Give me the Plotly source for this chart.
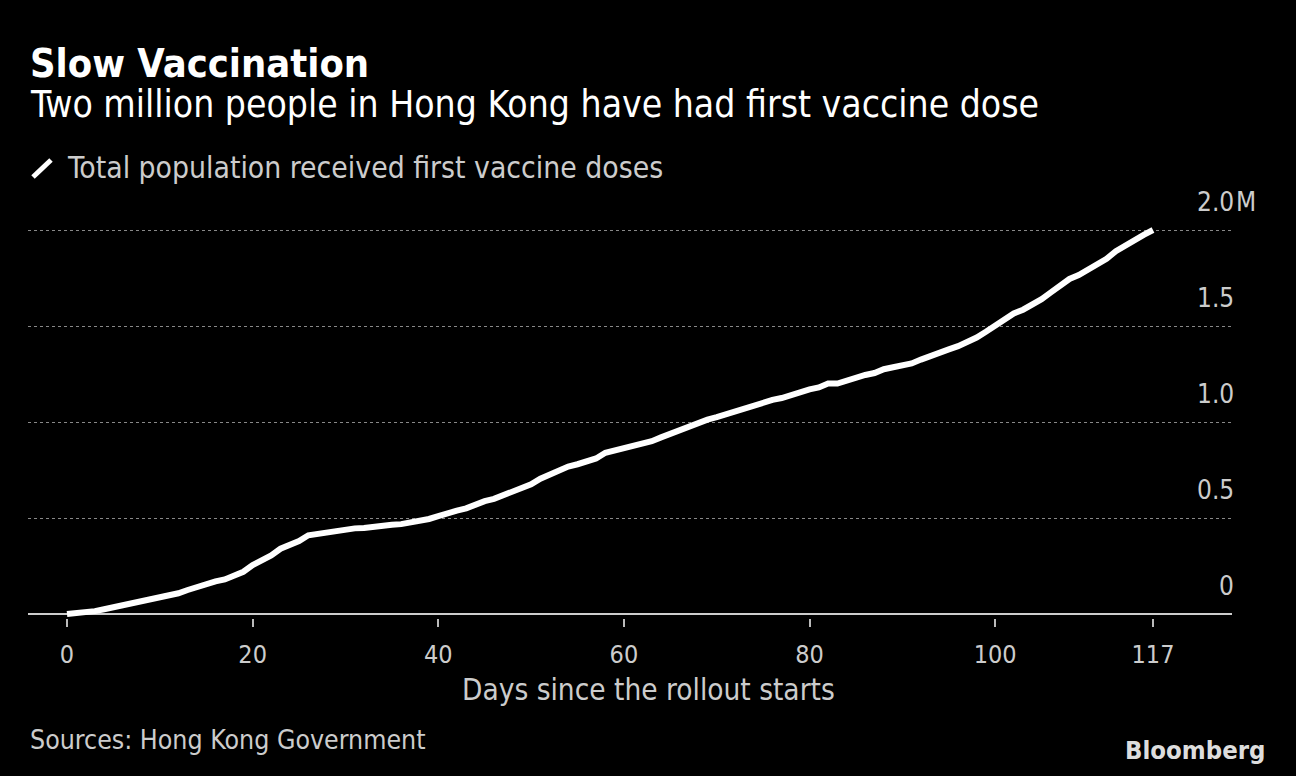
import plotly.graph_objects as go

# ---- data ----
days = list(range(0, 118))
doses_m = [
    0.000, 0.004, 0.006, 0.015, 0.025, 0.035, 0.045, 0.055, 0.065, 0.075,
    0.085, 0.095, 0.108, 0.125, 0.140, 0.160, 0.170, 0.180, 0.200, 0.220,
    0.255, 0.280, 0.305, 0.340, 0.360, 0.380, 0.410, 0.418, 0.420, 0.430,
    0.438, 0.446, 0.448, 0.455, 0.458, 0.465, 0.468, 0.476, 0.482, 0.495,
    0.510, 0.528, 0.538, 0.550, 0.570, 0.588, 0.600, 0.620, 0.640, 0.656,
    0.675, 0.705, 0.728, 0.748, 0.768, 0.780, 0.795, 0.810, 0.840, 0.852,
    0.870, 0.880, 0.890, 0.900, 0.920, 0.940, 0.955, 0.975, 0.995, 1.012,
    1.025, 1.040, 1.060, 1.075, 1.090, 1.106, 1.115, 1.125, 1.140, 1.160,
    1.170, 1.180, 1.200, 1.200, 1.215, 1.235, 1.245, 1.255, 1.275, 1.285,
    1.295, 1.305, 1.325, 1.345, 1.365, 1.378, 1.395, 1.415, 1.440, 1.470,
    1.500, 1.530, 1.565, 1.585, 1.610, 1.640, 1.675, 1.715, 1.745, 1.765,
    1.795, 1.820, 1.850, 1.890, 1.920, 1.945, 1.975, 2.000,
]
x_tickvals = [0, 20, 40, 60, 80, 100, 117]
x_ticktext = ["0", "20", "40", "60", "80", "100", "117"]
y_tickvals = [0, 0.5, 1.0, 1.5, 2.0]
y_ticktext = ["0", "0.5", "1.0", "1.5", "2.0"]
y_unit = "M"

title = "Slow Vaccination"
subtitle = "Two million people in Hong Kong have had first vaccine dose"
series_name = "Total population received first vaccine doses"
x_title = "Days since the rollout starts"
source = "Sources: Hong Kong Government"
brand = "Bloomberg"

FONT = "DejaVu Sans Condensed, Liberation Sans Narrow, Liberation Sans, sans-serif"
TXT = "#cccccc"

fig = go.Figure()
fig.add_trace(go.Scatter(
    x=days, y=doses_m, mode="lines", name=series_name,
    line=dict(color="white", width=6), hoverinfo="x+y",
))

W, H = 1296, 776
L, R, T, B = 28, 64, 200, 158
pw, ph = W - L - R, H - T - B

def py(pix):
    return (H - B - pix) / ph

def px(pix):
    return (pix - L) / pw

ann = []
ann.append(dict(text=f"<b>{title}</b>", x=0, y=py(63), xref="paper", yref="paper",
                xanchor="left", yanchor="middle", showarrow=False,
                font=dict(size=39.5, color="white", family=FONT)))
ann.append(dict(text=subtitle, x=0, y=py(105), xref="paper", yref="paper",
                xanchor="left", yanchor="middle", showarrow=False,
                font=dict(size=37, color="white", family=FONT)))
ann.append(dict(text=series_name, x=px(65), y=py(167), xref="paper", yref="paper",
                xanchor="left", yanchor="middle", showarrow=False,
                font=dict(size=29.8, color=TXT, family=FONT)))
for v, t in zip(y_tickvals, y_ticktext):
    ann.append(dict(text=t, x=px(1236), y=v, xref="paper", yref="y",
                    xanchor="right", yanchor="middle", yshift=28, showarrow=False,
                    font=dict(size=26, color=TXT, family=FONT)))
ann.append(dict(text=y_unit, x=px(1234), y=y_tickvals[-1], xref="paper", yref="y",
                xanchor="left", yanchor="middle", yshift=28, showarrow=False,
                font=dict(size=26, color=TXT, family=FONT)))
ann.append(dict(text=x_title, x=px(648), y=py(690), xref="paper", yref="paper",
                xanchor="center", yanchor="middle", showarrow=False,
                font=dict(size=29.5, color=TXT, family=FONT)))
ann.append(dict(text=source, x=0, y=py(739), xref="paper", yref="paper",
                xanchor="left", yanchor="middle", showarrow=False,
                font=dict(size=26.5, color=TXT, family=FONT)))
ann.append(dict(text=f"<b>{brand}</b>", x=px(1268), y=py(750), xref="paper", yref="paper",
                xanchor="right", yanchor="middle", showarrow=False,
                font=dict(size=25.5, color="#dddddd", family=FONT)))

shapes = [dict(type="line", xref="paper", yref="paper",
               x0=px(33), y0=py(177), x1=px(51), y1=py(160),
               line=dict(color="white", width=5))]

fig.update_layout(
    width=W, height=H,
    paper_bgcolor="black", plot_bgcolor="black",
    margin=dict(l=L, r=R, t=T, b=B),
    showlegend=False,
    annotations=ann, shapes=shapes,
    font=dict(family=FONT, color=TXT),
    xaxis=dict(
        range=[(L - 67) / 9.282, (W - R - 67) / 9.282],
        tickvals=x_tickvals, ticktext=x_ticktext,
        ticks="outside", ticklen=8, tickcolor="#bbbbbb", tickwidth=2,
        tickfont=dict(size=25, color=TXT, family=FONT),
        ticklabelstandoff=6,
        showgrid=False, zeroline=False, showline=False,
    ),
    yaxis=dict(
        range=[-4 / 192, (H - B - T - 4) / 192],
        tickvals=y_tickvals, showticklabels=False,
        showgrid=True, gridcolor="#888888", griddash="dot", gridwidth=1,
        zeroline=True, zerolinecolor="#cccccc", zerolinewidth=2,
        showline=False,
    ),
)

fig.write_html("out.html", config={"displayModeBar": False},
               post_script="document.body.style.margin='0';document.body.style.overflow='hidden';")
